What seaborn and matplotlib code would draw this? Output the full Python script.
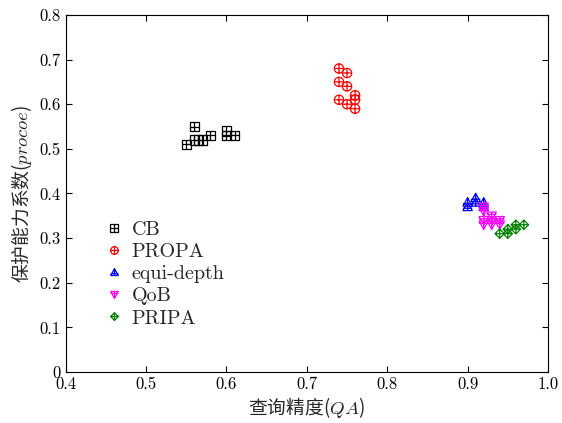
import numpy as np
import pandas as pd
import matplotlib
matplotlib.use("Agg")
import matplotlib.pyplot as plt
import seaborn as sns
from matplotlib.path import Path
from matplotlib.lines import Line2D

sns.set_style("ticks")
plt.rcParams['font.family'] = ['cmr10', 'Noto Sans CJK SC']
plt.rcParams['mathtext.fontset'] = 'cm'
plt.rcParams['axes.formatter.use_mathtext'] = True

cb_x = [0.55, 0.56, 0.56, 0.565, 0.57, 0.58, 0.60, 0.60, 0.61]
cb_y = [0.51, 0.55, 0.52, 0.52, 0.52, 0.53, 0.54, 0.53, 0.53]
propa_x = [0.74, 0.75, 0.74, 0.75, 0.74, 0.75, 0.76, 0.76, 0.76]
propa_y = [0.68, 0.67, 0.65, 0.64, 0.61, 0.60, 0.62, 0.61, 0.59]
equi_x = [0.90, 0.90, 0.91, 0.92, 0.92, 0.91]
equi_y = [0.37, 0.38, 0.39, 0.38, 0.37, 0.38]
qob_x = [0.92, 0.92, 0.92, 0.93, 0.94, 0.92, 0.93, 0.94, 0.93]
qob_y = [0.37, 0.36, 0.34, 0.34, 0.34, 0.33, 0.33, 0.33, 0.35]
pripa_x = [0.94, 0.95, 0.95, 0.96, 0.97, 0.96]
pripa_y = [0.31, 0.32, 0.31, 0.33, 0.33, 0.32]

names = ["CB", "PROPA", "equi-depth", "QoB", "PRIPA"]
xs = [cb_x, propa_x, equi_x, qob_x, pripa_x]
ys = [cb_y, propa_y, equi_y, qob_y, pripa_y]
colors = ["black", "red", "blue", "magenta", "green"]

xticks = [0.4, 0.5, 0.6, 0.7, 0.8, 0.9, 1.0]
yticks = [0, 0.1, 0.2, 0.3, 0.4, 0.5, 0.6, 0.7, 0.8]

CJK = ['Noto Sans CJK SC', 'DejaVu Sans']


def compound(shape_verts):
    n = len(shape_verts)
    verts = list(shape_verts) + [shape_verts[0]]
    codes = [Path.MOVETO] + [Path.LINETO] * (n - 1) + [Path.CLOSEPOLY]
    return verts, codes


def make_marker(kind):
    if kind == "s":
        v, c = compound([(-1, -1), (1, -1), (1, 1), (-1, 1)])
        plus = [(-1, 0), (1, 0), (0, -1), (0, 1)]
    elif kind == "d":
        v, c = compound([(0, -1), (1, 0), (0, 1), (-1, 0)])
        plus = [(-1, 0), (1, 0), (0, -1), (0, 1)]
    elif kind == "^":
        v, c = compound([(-1, -0.8), (1, -0.8), (0, 1)])
        plus = [(-1, -0.3), (1, -0.3), (0, -0.8), (0, 1)]
    elif kind == "v":
        v, c = compound([(-1, 0.8), (1, 0.8), (0, -1)])
        plus = [(-1, 0.3), (1, 0.3), (0, 0.8), (0, -1)]
    else:
        circ = Path.unit_circle()
        v = list(circ.vertices)
        c = list(circ.codes)
        plus = [(-1, 0), (1, 0), (0, -1), (0, 1)]
    v = list(v) + plus
    c = list(c) + [Path.MOVETO, Path.LINETO, Path.MOVETO, Path.LINETO]
    return Path(np.array(v, dtype=float), c)


kinds = ["s", "o", "^", "v", "d"]
markers = [make_marker(k) for k in kinds]

fig = plt.figure(figsize=(5.62, 4.23), dpi=100)
ax = fig.add_axes([0.117, 0.1206, 0.858, 0.844])

handles = []
for name, x, y, col, m in zip(names, xs, ys, colors, markers):
    df = pd.DataFrame({"x": x, "y": y})
    sns.scatterplot(data=df, x="x", y="y", ax=ax, marker=m, s=45,
                    color=col, facecolor="none", edgecolor=col,
                    linewidth=0.9, legend=False)
    handles.append(Line2D([], [], linestyle="none", marker=m, markersize=5.5,
                          markerfacecolor="none", markeredgecolor=col,
                          markeredgewidth=0.9, label=name))

ax.set_xlim(0.4, 1.0)
ax.set_ylim(0, 0.8)
ax.set_xticks(xticks)
ax.set_yticks(yticks)
ax.set_xticklabels(["0.4", "0.5", "0.6", "0.7", "0.8", "0.9", "1.0"])
ax.set_yticklabels(["0", "0.1", "0.2", "0.3", "0.4", "0.5", "0.6", "0.7", "0.8"])
ax.tick_params(direction="in", length=4, width=0.8, labelsize=12,
               top=True, right=True, colors="black")
for sp in ax.spines.values():
    sp.set_color("black")
    sp.set_linewidth(0.8)

ax.set_xlabel("查询精度($QA$)", fontsize=13.5, labelpad=2, family=CJK)
ax.set_ylabel("保护能力系数($procoe$)", fontsize=13.5, labelpad=4, family=CJK)

ax.legend(handles=handles, loc="lower left", bbox_to_anchor=(0.055, 0.085),
          frameon=False, fontsize=14.5, handlelength=0.8, handletextpad=0.45,
          labelspacing=0.2, borderpad=0.2)

fig.savefig("out.png", dpi=100)
